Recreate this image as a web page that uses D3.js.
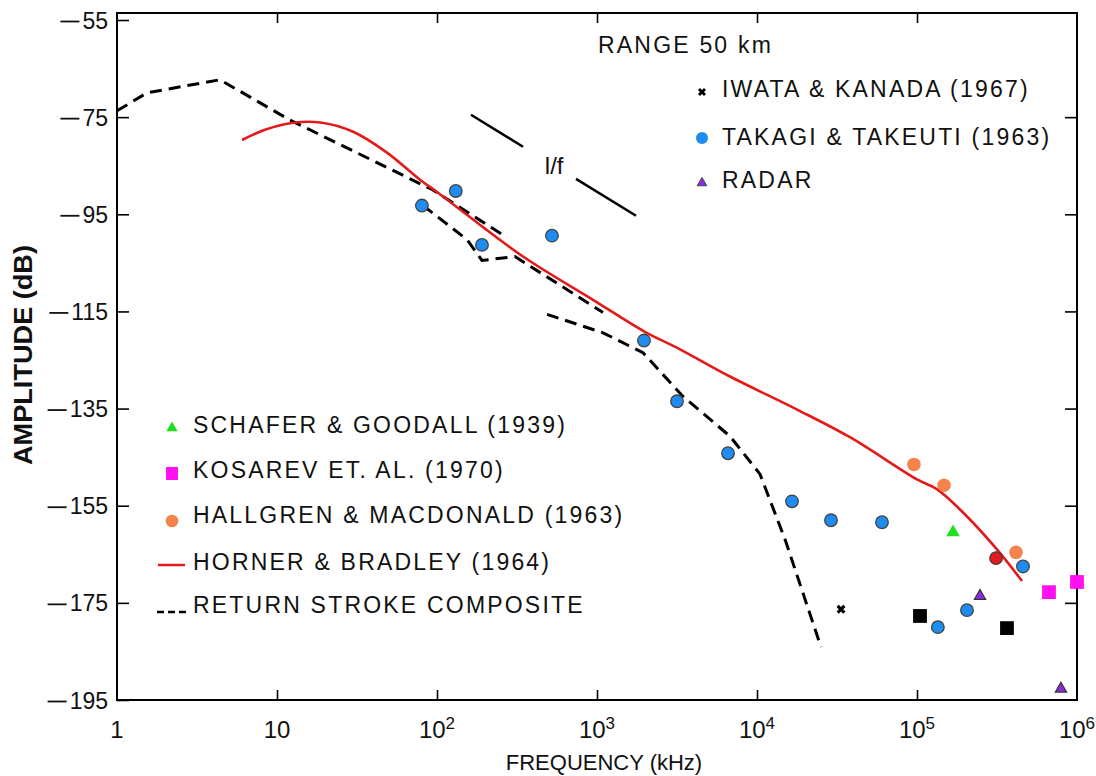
<!DOCTYPE html>
<html>
<head>
<meta charset="utf-8">
<script src="https://cdn.jsdelivr.net/npm/d3@7"></script>
<style>
	body { margin: 0; background: #fff; }
	svg text { font-family: "Liberation Sans", Arial, sans-serif; fill: #111; }
</style>
</head>
<body>
<div id="chart"></div>
<script>
/*
	Lightning spectrum at 50 km, log frequency vs amplitude.
*/

// frequency in kHz, amplitude in dB
var xTicks = [1, 10, 1e2, 1e3, 1e4, 1e5, 1e6];
var xTickLabels = ['1', '10', '10|2', '10|3', '10|4', '10|5', '10|6'];
var yTicks = [-55, -75, -95, -115, -135, -155, -175, -195];

var takagi = [[80.5, -93.2], [131, -90.2], [191, -101.3], [523, -99.4], [1966, -121.0],
	[3162, -133.5], [6590, -144.2], [16550, -154.1], [29000, -158.0], [60400, -158.4],
	[135000, -180.0], [205300, -176.5], [459700, -167.5]];
var hallgren = [[95700, -146.5], [147500, -150.8], [415700, -164.6]];
var redDots = [[311900, -165.8]];
var schafer = [[168000, -160.5]];
var kosarev = [[668000, -172.8], [1000000, -170.7]];
var blackSquares = [[104400, -177.7], [365000, -180.2]];
var radar = [[247600, -173.6], [794000, -192.7]];
var iwata = [[33500, -176.3]];

var horner = [[6.04, -79.7], [8.41, -77.6], [12.4, -76.2], [18.6, -76.1], [29.9, -78.0],
	[48.7, -82.3], [78.3, -87.9], [100, -90.4], [345, -103.7], [944, -112.6], [1966, -119.1],
	[3300, -122.8], [6780, -128.4], [17800, -135.2], [38100, -140.9], [100000, -149.6],
	[133000, -151.6], [194000, -156.4], [316000, -164.0], [453000, -170.5]];

var compositeA = [[1, -73.7], [1.54, -70.0], [4.40, -67.3], [12.05, -75.6], [94.4, -90.0], [274, -99.8]];
var compositeB = [[81.7, -93.2], [154, -100.2], [191, -104.5], [307, -103.7], [1090, -115.2]];
var compositeC = [[487, -115.6], [1090, -119.4], [1939, -123.5], [3447, -132.5], [6780, -140.7],
	[10440, -148.5], [14960, -161.9], [25120, -184.1]];

var slopeRef1 = [[163, -74.5], [345, -81.1]];
var slopeRef2 = [[739, -87.7], [1754, -95.3]];

var legendTop = ['IWATA & KANADA (1967)', 'TAKAGI & TAKEUTI (1963)', 'RADAR'];
var legendBottom = ['SCHAFER & GOODALL (1939)', 'KOSAREV ET. AL. (1970)', 'HALLGREN & MACDONALD (1963)',
	'HORNER & BRADLEY (1964)', 'RETURN STROKE COMPOSITE'];

var colors = {
	blue: '#1e8cf0',
	orange: '#f4834c',
	red: '#e31a1a',
	green: '#1fe01f',
	magenta: '#ff10f0',
	purple: '#8a2be2'
};

var width = 1096, height = 776;
var plotLeft = 117, plotRight = 1077, plotTop = 13, plotBottom = 700;

var svg = d3.select('#chart').append('svg')
	.attr('width', width)
	.attr('height', height);

var x = d3.scaleLog().domain([1, 1e6]).range([plotLeft, plotRight]);
var y = d3.scaleLinear().domain([-55, -195]).range([20, plotBottom]);

// frame
svg.append('rect')
	.attr('x', plotLeft).attr('y', plotTop)
	.attr('width', plotRight - plotLeft).attr('height', plotBottom - plotTop)
	.attr('fill', 'none').attr('stroke', '#000').attr('stroke-width', 2);

var axisStyle = function(g) {
	g.select('.domain').remove();
	g.selectAll('.tick line').attr('stroke', '#000').attr('stroke-width', 1.6);
};

var gLeft = svg.append('g').attr('transform', 'translate(' + plotLeft + ',0)')
	.call(d3.axisLeft(y).tickValues(yTicks).tickSizeInner(-12).tickSizeOuter(0).tickFormat(''))
	.call(axisStyle);
gLeft.selectAll('.tick').each(function(d) {
	var tick = d3.select(this);
	var label = tick.append('text')
		.attr('x', -9).attr('dy', '0.35em')
		.attr('text-anchor', 'end')
		.style('font-size', '23px')
		.text(Math.abs(d));
	// long dash used as the minus sign, placed just before the digits
	var start = -9 - label.node().getComputedTextLength() - 3;
	tick.append('line')
		.attr('x1', start - 19).attr('x2', start)
		.attr('y1', 1).attr('y2', 1)
		.attr('stroke', '#111').attr('stroke-width', 1.8);
});

svg.append('g').attr('transform', 'translate(' + plotRight + ',0)')
	.call(d3.axisRight(y).tickValues(yTicks.slice(1, -1)).tickSizeInner(-12).tickSizeOuter(0).tickFormat(''))
	.call(axisStyle);

svg.append('g').attr('transform', 'translate(0,' + plotTop + ')')
	.call(d3.axisTop(x).tickValues(xTicks.slice(1, -1)).tickSizeInner(-10).tickSizeOuter(0).tickFormat(''))
	.call(axisStyle);

svg.append('g').attr('transform', 'translate(0,' + plotBottom + ')')
	.call(d3.axisBottom(x).tickValues(xTicks.slice(1, -1)).tickSizeInner(-10).tickSizeOuter(0).tickFormat(''))
	.call(axisStyle);

svg.append('g').selectAll('text').data(xTicks).enter().append('text')
	.attr('x', function(d) { return x(d); })
	.attr('y', 738)
	.attr('text-anchor', 'middle')
	.style('font-size', '24px')
	.each(function(d, i) {
		var parts = xTickLabels[i].split('|');
		var t = d3.select(this);
		t.append('tspan').text(parts[0]);
		if (parts[1]) {
			t.append('tspan').attr('dy', -9).style('font-size', '17px').text(parts[1]);
		}
	});

svg.append('text')
	.attr('x', 604).attr('y', 770)
	.attr('text-anchor', 'middle')
	.style('font-size', '22px')
	.text('FREQUENCY (kHz)');

svg.append('text')
	.attr('transform', 'translate(32,355) rotate(-90)')
	.attr('text-anchor', 'middle')
	.attr('textLength', 220)
	.attr('lengthAdjust', 'spacingAndGlyphs')
	.style('font-size', '25px')
	.style('font-weight', 'bold')
	.text('AMPLITUDE (dB)');

// lines
var line = d3.line()
	.x(function(d) { return x(d[0]); })
	.y(function(d) { return y(d[1]); });

var plot = svg.append('g');

[compositeA, compositeB, compositeC].forEach(function(seg) {
	plot.append('path')
		.attr('d', line(seg))
		.attr('fill', 'none')
		.attr('stroke', '#000')
		.attr('stroke-width', 3)
		.attr('stroke-dasharray', '12,7');
});

[slopeRef1, slopeRef2].forEach(function(seg) {
	plot.append('path')
		.attr('d', line(seg))
		.attr('fill', 'none')
		.attr('stroke', '#000')
		.attr('stroke-width', 2.5);
});

plot.append('text')
	.attr('x', x(540)).attr('y', y(-86.8))
	.attr('text-anchor', 'middle')
	.style('font-size', '24px')
	.text('l/f');

plot.append('path')
	.attr('d', line.curve(d3.curveCatmullRom)(horner))
	.attr('fill', 'none')
	.attr('stroke', colors.red)
	.attr('stroke-width', 2.6);
line.curve(d3.curveLinear);

// markers
var circles = function(data, fill, r, stroke) {
	plot.selectAll(null).data(data).enter().append('circle')
		.attr('cx', function(d) { return x(d[0]); })
		.attr('cy', function(d) { return y(d[1]); })
		.attr('r', r)
		.attr('fill', fill)
		.attr('stroke', stroke ? '#444' : 'none')
		.attr('stroke-width', 1.3);
};
var symbols = function(data, type, size, fill, stroke) {
	plot.selectAll(null).data(data).enter().append('path')
		.attr('transform', function(d) { return 'translate(' + x(d[0]) + ',' + y(d[1]) + ')'; })
		.attr('d', d3.symbol().type(type).size(size))
		.attr('fill', fill)
		.attr('stroke', stroke || 'none')
		.attr('stroke-width', 1.2);
};

circles(takagi, colors.blue, 6.3, true);
circles(hallgren, colors.orange, 6.8);
circles(redDots, colors.red, 6.3, true);
symbols(schafer, d3.symbolTriangle, 80, colors.green);
symbols(kosarev, d3.symbolSquare, 190, colors.magenta);
symbols(blackSquares, d3.symbolSquare, 190, '#000');
symbols(radar, d3.symbolTriangle, 55, colors.purple, '#333');
plot.selectAll(null).data(iwata).enter().append('path')
	.attr('transform', function(d) { return 'translate(' + x(d[0]) + ',' + y(d[1]) + ') rotate(45)'; })
	.attr('d', d3.symbol().type(d3.symbolCross).size(50))
	.attr('fill', '#000');

// legends
var legendText = function(g, px, py, label) {
	g.append('text').attr('x', px).attr('y', py)
		.style('font-size', '23px')
		.style('letter-spacing', '2.2px')
		.text(label);
};

legendText(svg, 598, 53, 'RANGE 50 km');

var lt = svg.append('g').attr('transform', 'translate(702,0)');
var topMarks = [92, 138, 183];
var topBase = [97, 145, 188];
legendTop.forEach(function(label, i) { legendText(lt, 20, topBase[i], label); });
lt.append('path').attr('transform', 'translate(0,' + topMarks[0] + ') rotate(45)')
	.attr('d', d3.symbol().type(d3.symbolCross).size(40)).attr('fill', '#000');
lt.append('circle').attr('cy', topMarks[1]).attr('r', 6).attr('fill', colors.blue);
lt.append('path').attr('transform', 'translate(0,' + topMarks[2] + ')')
	.attr('d', d3.symbol().type(d3.symbolTriangle).size(40))
	.attr('fill', colors.purple).attr('stroke', '#444');

var lb = svg.append('g').attr('transform', 'translate(172,0)');
var bottomMarks = [428, 473, 521, 565, 612];
var bottomBase = [433, 478, 523, 570, 613];
legendBottom.forEach(function(label, i) { legendText(lb, 21, bottomBase[i], label); });
lb.append('path').attr('transform', 'translate(0,' + bottomMarks[0] + ')')
	.attr('d', d3.symbol().type(d3.symbolTriangle).size(55)).attr('fill', colors.green);
lb.append('rect').attr('x', -6).attr('y', bottomMarks[1] - 6).attr('width', 12).attr('height', 13)
	.attr('fill', colors.magenta);
lb.append('circle').attr('cy', bottomMarks[2]).attr('r', 6.3).attr('fill', colors.orange);
lb.append('line').attr('x1', -14).attr('x2', 13).attr('y1', bottomMarks[3]).attr('y2', bottomMarks[3])
	.attr('stroke', colors.red).attr('stroke-width', 2.5);
lb.append('line').attr('x1', -15).attr('x2', 15).attr('y1', bottomMarks[4]).attr('y2', bottomMarks[4])
	.attr('stroke', '#000').attr('stroke-width', 2.5).attr('stroke-dasharray', '7,4');
</script>
</body>
</html>
